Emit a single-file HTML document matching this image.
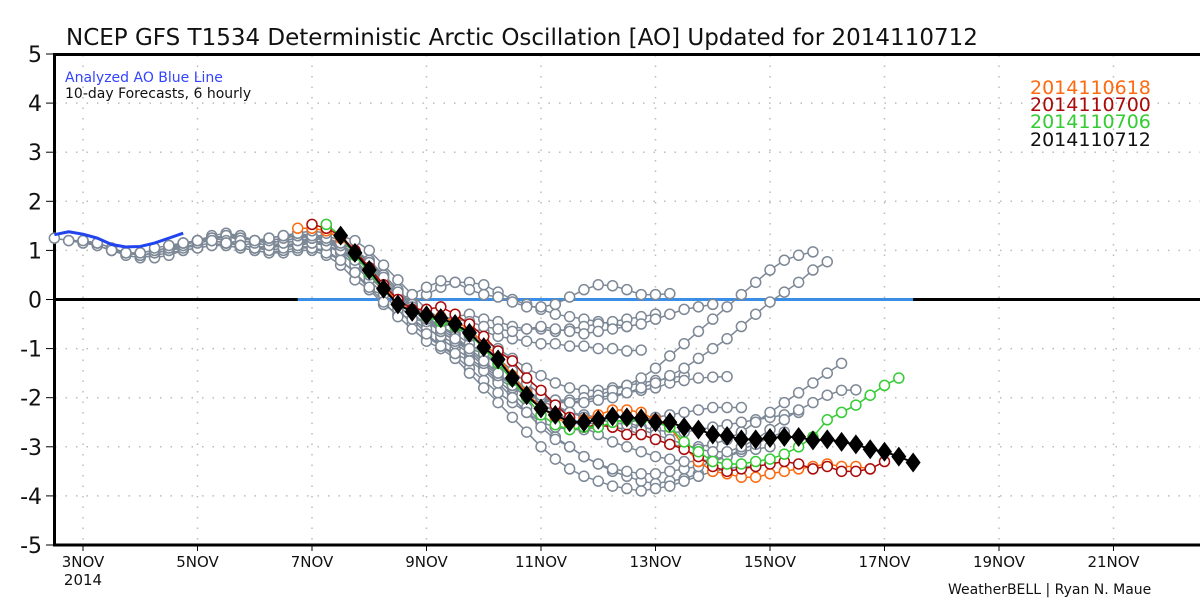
<!DOCTYPE html>
<html><head><meta charset="utf-8"><style>
body{margin:0;background:#fff;width:1200px;height:600px;overflow:hidden}
svg{font-family:"DejaVu Sans","Liberation Sans",sans-serif}
</style></head><body>
<svg id="chart" width="1200" height="600" viewBox="0 0 1200 600" xmlns="http://www.w3.org/2000/svg">
<rect width="1200" height="600" fill="#fff"/>
<text x="66" y="45" font-size="23" fill="#111">NCEP GFS T1534 Deterministic Arctic Oscillation [AO] Updated for 2014110712</text>
<g id="grid"></g><g id="axes"></g><g id="series"></g>
<text x="65" y="82" font-size="14" fill="#3344ff">Analyzed AO Blue Line</text>
<text x="65" y="98" font-size="14" fill="#111">10-day Forecasts, 6 hourly</text>
<g font-size="19">
<text x="1030" y="94" fill="#ff6a10">2014110618</text>
<text x="1030" y="111" fill="#aa0a0a">2014110700</text>
<text x="1030" y="128" fill="#33cc33">2014110706</text>
<text x="1030" y="146" fill="#111">2014110712</text>
</g>
<text x="948" y="594" font-size="14" fill="#111">WeatherBELL | Ryan N. Maue</text>
</svg>
<script>
const xTickDays=[3,5,7,9,11,13,15,17,19,21];
const xTickLabels=["3NOV","5NOV","7NOV","9NOV","11NOV","13NOV","15NOV","17NOV","19NOV","21NOV"];
const yTicks=[5,4,3,2,1,0,-1,-2,-3,-4,-5];
const analyzedStart=2.5;
const analyzed=[1.32,1.38,1.33,1.25,1.12,1.07,1.08,1.15,1.25,1.35];
const grayInits=[2.5,2.75,3.0,3.25,3.5,3.75,4.0,4.25,4.5,4.75,5.0,5.25,5.5,5.75,6.0,6.25,6.5];
const gray=[
[1.25,1.2,1.2,1.1,1.0,0.95,0.9,0.95,1.0,1.05,1.1,1.15,1.1,1.05,1.0,0.95,0.95,1.0,1.0,0.9,0.7,0.4,0.2,0.1,0.0,-0.1,0.1,0.25,0.35,0.35,0.3,0.15,0.0,-0.1,-0.2,-0.3,-0.35,-0.4,-0.45,-0.5,-0.55],
[1.2,1.15,1.1,1.0,0.9,0.85,0.9,0.95,1.0,1.05,1.1,1.1,1.05,1.0,0.95,1.0,1.05,1.05,1.0,0.8,0.55,0.2,-0.1,-0.3,-0.4,-0.45,-0.5,-0.55,-0.6,-0.65,-0.75,-0.8,-0.85,-0.9,-0.9,-0.95,-0.95,-1.0,-1.0,-1.05,-1.03],
[1.2,1.15,1.05,0.95,0.9,0.85,0.9,1.0,1.05,1.1,1.15,1.2,1.15,1.1,1.1,1.15,1.2,1.15,1.05,0.8,0.5,0.2,0.0,-0.2,-0.35,-0.4,-0.35,-0.3,-0.4,-0.45,-0.55,-0.6,-0.6,-0.65,-0.6,-0.55,-0.5,-0.45,-0.4,-0.35,-0.3],
[1.15,1.05,0.95,0.9,0.95,1.0,1.05,1.15,1.2,1.3,1.25,1.2,1.2,1.25,1.3,1.3,1.2,1.0,0.75,0.45,0.2,0.0,0.1,0.25,0.38,0.35,0.2,0.1,0.05,-0.05,-0.15,-0.15,-0.1,0.05,0.2,0.3,0.28,0.2,0.1,0.1,0.12],
[1.0,0.95,0.9,0.95,1.0,1.1,1.2,1.25,1.3,1.3,1.2,1.15,1.2,1.25,1.3,1.25,1.1,0.85,0.6,0.35,0.1,-0.1,-0.3,-0.45,-0.55,-0.7,-0.85,-1.0,-1.2,-1.4,-1.55,-1.7,-1.8,-1.85,-1.85,-1.8,-1.75,-1.7,-1.65,-1.6,-1.55],
[0.95,0.95,1.0,1.05,1.15,1.2,1.3,1.35,1.3,1.2,1.15,1.2,1.25,1.3,1.3,1.2,1.0,0.7,0.4,0.05,-0.25,-0.55,-0.8,-1.0,-1.2,-1.4,-1.65,-1.9,-2.2,-2.5,-2.8,-3.0,-3.2,-3.35,-3.5,-3.6,-3.7,-3.75,-3.7,-3.65,-3.55],
[0.95,1.0,1.05,1.1,1.2,1.25,1.3,1.25,1.2,1.15,1.2,1.25,1.3,1.25,1.1,0.9,0.6,0.3,0.0,-0.2,-0.35,-0.4,-0.4,-0.45,-0.55,-0.6,-0.65,-0.6,-0.55,-0.6,-0.65,-0.7,-0.65,-0.6,-0.55,-0.5,-0.4,-0.3,-0.2,-0.15,-0.1],
[1.05,1.1,1.15,1.2,1.25,1.3,1.25,1.2,1.15,1.2,1.25,1.3,1.2,1.05,0.8,0.5,0.2,-0.1,-0.4,-0.6,-0.75,-0.9,-1.1,-1.35,-1.6,-1.8,-1.95,-2.05,-2.1,-2.1,-2.05,-2.0,-1.95,-1.9,-1.85,-1.8,-1.7,-1.65,-1.6,-1.58,-1.57],
[1.1,1.15,1.2,1.25,1.3,1.2,1.15,1.1,1.15,1.2,1.2,1.1,0.95,0.7,0.4,0.1,-0.2,-0.5,-0.75,-0.95,-1.15,-1.4,-1.65,-1.9,-2.1,-2.3,-2.5,-2.6,-2.65,-2.65,-2.6,-2.55,-2.5,-2.45,-2.4,-2.35,-2.3,-2.25,-2.2,-2.2,-2.2],
[1.15,1.2,1.25,1.2,1.1,1.05,1.05,1.1,1.1,1.05,0.95,0.8,0.55,0.25,-0.05,-0.35,-0.6,-0.85,-1.0,-1.2,-1.5,-1.8,-2.1,-2.4,-2.7,-3.0,-3.25,-3.45,-3.6,-3.7,-3.8,-3.85,-3.9,-3.85,-3.8,-3.7,-3.6,-3.5,-3.45,-3.4,-3.4],
[1.2,1.2,1.15,1.1,1.05,1.05,1.1,1.15,1.15,1.1,1.0,0.8,0.5,0.2,-0.1,-0.4,-0.7,-0.95,-1.1,-1.25,-1.45,-1.7,-2.0,-2.3,-2.6,-2.85,-3.0,-3.2,-3.35,-3.45,-3.5,-3.55,-3.55,-3.5,-3.45,-3.4,-3.3,-3.2,-3.1,-3.05,-3.0],
[1.2,1.15,1.1,1.05,1.0,1.05,1.1,1.15,1.2,1.15,1.0,0.8,0.5,0.2,-0.1,-0.4,-0.65,-0.85,-1.0,-1.1,-1.3,-1.55,-1.85,-2.1,-2.3,-2.45,-2.6,-2.75,-2.9,-3.0,-3.1,-3.2,-3.25,-3.3,-3.3,-3.25,-3.2,-3.05,-2.95,-2.8,-2.7],
[1.15,1.1,1.05,1.1,1.15,1.2,1.25,1.2,1.1,0.95,0.75,0.5,0.2,-0.1,-0.35,-0.55,-0.7,-0.9,-1.1,-1.35,-1.6,-1.85,-2.05,-2.2,-2.3,-2.35,-2.4,-2.45,-2.5,-2.6,-2.65,-2.7,-2.7,-2.65,-2.6,-2.55,-2.5,-2.45,-2.4,-2.35,-2.3],
[1.1,1.15,1.2,1.25,1.3,1.25,1.2,1.1,0.9,0.65,0.35,0.05,-0.2,-0.4,-0.55,-0.75,-1.0,-1.25,-1.5,-1.75,-1.9,-2.0,-2.05,-2.05,-2.0,-1.95,-1.85,-1.75,-1.6,-1.4,-1.15,-0.9,-0.65,-0.4,-0.15,0.1,0.35,0.6,0.8,0.9,0.97],
[1.2,1.25,1.3,1.3,1.25,1.2,1.1,0.95,0.7,0.4,0.1,-0.2,-0.45,-0.65,-0.85,-1.05,-1.3,-1.55,-1.75,-1.9,-2.0,-2.05,-2.1,-2.1,-2.05,-2.0,-1.9,-1.8,-1.7,-1.55,-1.4,-1.2,-1.0,-0.8,-0.55,-0.3,-0.05,0.15,0.35,0.6,0.77],
[1.25,1.3,1.35,1.3,1.25,1.15,1.0,0.75,0.45,0.15,-0.15,-0.4,-0.6,-0.8,-1.0,-1.25,-1.5,-1.75,-2.0,-2.2,-2.35,-2.45,-2.5,-2.55,-2.6,-2.65,-2.75,-2.85,-2.95,-3.0,-3.0,-2.95,-2.85,-2.7,-2.5,-2.3,-2.1,-1.9,-1.7,-1.5,-1.3],
[1.3,1.35,1.4,1.35,1.3,1.2,1.0,0.7,0.4,0.1,-0.2,-0.4,-0.55,-0.75,-0.95,-1.2,-1.45,-1.7,-1.95,-2.15,-2.3,-2.4,-2.45,-2.5,-2.55,-2.65,-2.75,-2.85,-2.95,-3.05,-3.1,-3.1,-3.0,-2.85,-2.65,-2.45,-2.25,-2.1,-1.95,-1.85,-1.84]
];
const orangeInit=6.75;
const orange=[1.45,1.45,1.4,1.25,0.95,0.6,0.25,-0.05,-0.25,-0.3,-0.35,-0.45,-0.6,-0.9,-1.15,-1.55,-1.9,-2.2,-2.4,-2.55,-2.45,-2.35,-2.25,-2.25,-2.3,-2.45,-2.6,-3.0,-3.3,-3.5,-3.55,-3.62,-3.62,-3.55,-3.5,-3.45,-3.4,-3.35,-3.4,-3.4,-3.45];
const redInit=7.0;
const red=[1.53,1.45,1.3,1.0,0.65,0.3,0.0,-0.2,-0.2,-0.15,-0.3,-0.5,-0.75,-1.05,-1.25,-1.6,-1.85,-2.15,-2.4,-2.6,-2.55,-2.6,-2.75,-2.75,-2.85,-2.95,-3.05,-3.2,-3.4,-3.5,-3.45,-3.4,-3.35,-3.3,-3.35,-3.45,-3.4,-3.5,-3.5,-3.45,-3.3];
const greenInit=7.25;
const green=[1.53,1.3,0.9,0.55,0.2,-0.1,-0.25,-0.35,-0.45,-0.55,-0.7,-1.0,-1.3,-1.65,-2.0,-2.35,-2.55,-2.65,-2.6,-2.6,-2.5,-2.45,-2.45,-2.5,-2.6,-2.9,-3.1,-3.3,-3.35,-3.35,-3.3,-3.25,-3.15,-3.0,-2.8,-2.45,-2.3,-2.15,-1.95,-1.75,-1.6];
const blackInit=7.5;
const black=[1.3,0.95,0.6,0.22,-0.1,-0.25,-0.32,-0.38,-0.5,-0.68,-0.97,-1.22,-1.6,-1.95,-2.22,-2.35,-2.5,-2.5,-2.45,-2.38,-2.4,-2.42,-2.5,-2.5,-2.6,-2.65,-2.75,-2.78,-2.85,-2.85,-2.82,-2.8,-2.8,-2.87,-2.85,-2.9,-2.95,-3.05,-3.1,-3.2,-3.32];
const zeroLineStart=6.75, zeroLineEnd=17.5;

const NS="http://www.w3.org/2000/svg";
const X=d=>83+(d-3)*57.25;
const Y=v=>299.5-v*49.1;
function mk(tag,attrs,parent){const e=document.createElementNS(NS,tag);for(const k in attrs)e.setAttribute(k,attrs[k]);parent.appendChild(e);return e;}
const grid=document.getElementById('grid'),axes=document.getElementById('axes'),ser=document.getElementById('series');
xTickDays.forEach((d,i)=>{
  const l=mk('line',{x1:X(d),x2:X(d),y1:55,y2:545,stroke:'#bbb','stroke-width':1.5,'stroke-dasharray':'1.5 9'},grid);
  
  
  const t=mk('line',{x1:X(d),x2:X(d),y1:545,y2:551,stroke:'#000','stroke-width':1},axes);
  
  
  const tx=mk('text',{x:X(d),y:567,'text-anchor':'middle','font-size':15,fill:'#111'},axes);
  tx.textContent=xTickLabels[i];
  
  
});
const yr=mk('text',{x:X(3),y:585,'text-anchor':'middle','font-size':15,fill:'#111'},axes);
yr.textContent='2014';


yTicks.forEach(v=>{
  if(v!==5&&v!==-5&&v!==0){
    const l=mk('line',{x1:55,x2:1200,y1:Y(v),y2:Y(v),stroke:'#bbb','stroke-width':1.5,'stroke-dasharray':'1.5 9'},grid);
    
    
  }
  const t=mk('line',{x1:46,x2:53,y1:Y(v),y2:Y(v),stroke:'#000','stroke-width':1},axes);
  
  
  const tx=mk('text',{x:42,y:Y(v)+8,'text-anchor':'end','font-size':22,fill:'#111'},axes);
  tx.textContent=String(v);
  
  
});
const fr=mk('path',{d:'M54.5 545 V54.5 H1200 M53 545 H1200',stroke:'#000','stroke-width':3,fill:'none'},axes);


const zl=mk('line',{x1:53,x2:1200,y1:Y(0),y2:Y(0),stroke:'#000','stroke-width':3},axes);


const bz=mk('line',{x1:X(zeroLineStart),x2:X(zeroLineEnd),y1:Y(0),y2:Y(0),stroke:'#3a8ee6','stroke-width':3},axes);



function pts(init,vals){return vals.map((v,i)=>[X(init+i*0.25),Y(v)]);}
function drawRun(init,vals,color,name,marker){
  const g=mk('g',{},ser);
  
  
  const p=pts(init,vals);
  const pl=mk('polyline',{points:p.map(q=>q.join(',')).join(' '),fill:'none',stroke:color,'stroke-width':marker==='diamond'?2:1.5},g);
  
  
  p.forEach(q=>{
    let m;
    if(marker==='diamond'){
      m=mk('path',{d:`M${q[0]} ${q[1]-10} L${q[0]+7.5} ${q[1]} L${q[0]} ${q[1]+10} L${q[0]-7.5} ${q[1]} Z`,fill:'#000'},g);
    }else{
      m=mk('circle',{cx:q[0],cy:q[1],r:5,fill:'#fff',stroke:color,'stroke-width':1.5},g);
    }
    
    
  });
}
gray.forEach((vals,i)=>drawRun(grayInits[i],vals,'#7d8896','gray-forecast-run'));
const bl=mk('polyline',{points:pts(analyzedStart,analyzed).map(q=>q.join(',')).join(' '),fill:'none',stroke:'#2244ee','stroke-width':3,'stroke-linejoin':'round'},ser);


drawRun(orangeInit,orange,'#ff6a10','run-2014110618');
drawRun(redInit,red,'#aa0a0a','run-2014110700');
drawRun(greenInit,green,'#33cc33','run-2014110706');
drawRun(blackInit,black,'#000','run-2014110712','diamond');
</script>
</body></html>
